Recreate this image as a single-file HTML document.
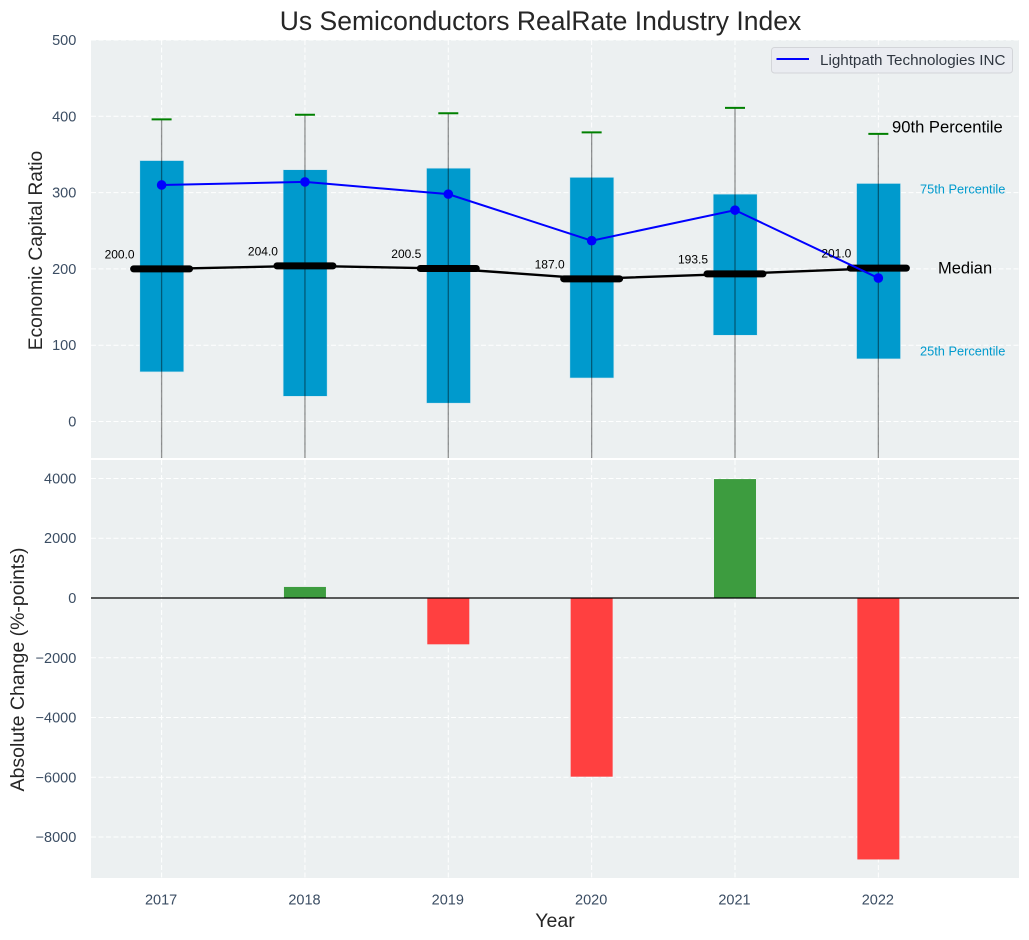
<!DOCTYPE html>
<html lang="en">
<head>
<meta charset="utf-8">
<title>Us Semiconductors RealRate Industry Index</title>
<style>
html,body{margin:0;padding:0;background:#fff;width:1029px;height:940px;overflow:hidden}
svg{display:block;font-family:"Liberation Sans",Arial,sans-serif}
</style>
</head>
<body>
<svg id="chart" xmlns="http://www.w3.org/2000/svg" width="1029" height="940" viewBox="0 0 1029 940"></svg>
<script>
const years = [2017, 2018, 2019, 2020, 2021, 2022];
const p90 = [396, 402, 404, 379, 411, 377];
const p75 = [342, 330, 332, 320, 298, 312];
const medians = [200.0, 204.0, 200.5, 187.0, 193.5, 201.0];
const p25 = [65, 33, 24, 57, 113, 82];
const p10 = [-90, -110, -120, -100, -70, -80];
const companyRatio = [310, 314, 298, 237, 277, 188];
const absoluteChange = [0, 370, -1550, -5980, 3980, -8750];
const topTicks = [0, 100, 200, 300, 400, 500];
const bottomTicks = [-8000, -6000, -4000, -2000, 0, 2000, 4000];

const svg = document.getElementById('chart');
const NS = 'http://www.w3.org/2000/svg';
function mk(tag, attrs, parent, text) {
  const el = document.createElementNS(NS, tag);
  for (const k in attrs) el.setAttribute(k, attrs[k]);
  if (text !== undefined) el.textContent = text;
  (parent || svg).appendChild(el);
  return el;
}
const L = 91, R = 1019, T1 = 40, B1 = 458, T2 = 460, B2 = 878;
function xAxis(y) { return 161.6 + (y - 2017) * 143.35; }
function yTop(v) { return 421.5 - v * 0.763; }
function yBot(v) { return 598 - v * 0.02988; }
const tickColor = '#3b4d63';

/* panels */
let el = mk('rect', {x: L, y: T1, width: R - L, height: B1 - T1, fill: '#ecf0f1'});


el = mk('rect', {x: L, y: T2, width: R - L, height: B2 - T2, fill: '#ecf0f1'});



/* grid */
const dash = {stroke: '#fff', 'stroke-width': 1, 'stroke-dasharray': '5 2.5', fill: 'none', opacity: 0.95};
years.forEach(function (yr) {
  const g1 = mk('line', Object.assign({x1: xAxis(yr), x2: xAxis(yr), y1: T1, y2: B1}, dash));
  
  
  const g2 = mk('line', Object.assign({x1: xAxis(yr), x2: xAxis(yr), y1: T2, y2: B2}, dash));
  
  
  const t = mk('text', {x: xAxis(yr) - 0.5, y: 904.5, 'text-anchor': 'middle', 'font-size': 14.5, fill: tickColor}, svg, String(yr));
  
  
});
topTicks.forEach(function (v) {
  const g = mk('line', Object.assign({x1: L, x2: R, y1: yTop(v), y2: yTop(v)}, dash));
  
  
  const t = mk('text', {x: 76.3, y: yTop(v) + 5, 'text-anchor': 'end', 'font-size': 14.5, fill: tickColor}, svg, String(v));
  
  
});
bottomTicks.forEach(function (v) {
  const g = mk('line', Object.assign({x1: L, x2: R, y1: yBot(v), y2: yBot(v)}, dash));
  
  
  const t = mk('text', {x: 76.3, y: yBot(v) + 5, 'text-anchor': 'end', 'font-size': 14.5, fill: tickColor}, svg, String(v).replace('-', '\u2212'));
  
  
});

/* clip for whiskers */
const defs = mk('defs', {});
const clip = mk('clipPath', {id: 'topClip'}, defs);
mk('rect', {x: L, y: T1, width: R - L, height: B1 - T1}, clip);
const topGroup = mk('g', {'clip-path': 'url(#topClip)'});



/* boxes */
years.forEach(function (yr, i) {
  const cx = xAxis(yr) + 0.2;
  const box = mk('rect', {x: cx - 22, y: yTop(p75[i]), width: 44, height: yTop(p25[i]) - yTop(p75[i]), fill: '#009acd', stroke: '#cfe6ef', 'stroke-width': 0.6}, topGroup);
  
  
});

/* median connecting line */
const medLine = mk('polyline', {points: years.map(function (yr, i) { return xAxis(yr) + ',' + yTop(medians[i]); }).join(' '), fill: 'none', stroke: '#000', 'stroke-width': 2.4}, topGroup);



/* median bars */
years.forEach(function (yr, i) {
  const m = mk('line', {x1: xAxis(yr) - 28, x2: xAxis(yr) + 28, y1: yTop(medians[i]), y2: yTop(medians[i]), stroke: '#000', 'stroke-width': 7, 'stroke-linecap': 'round'}, topGroup);
  
  
});

/* whiskers */
years.forEach(function (yr, i) {
  const w = mk('line', {x1: xAxis(yr), x2: xAxis(yr), y1: yTop(p90[i]), y2: yTop(p10[i]), stroke: '#000', 'stroke-opacity': 0.42, 'stroke-width': 1.3}, topGroup);
  
  
  const c = mk('line', {x1: xAxis(yr) - 10, x2: xAxis(yr) + 10, y1: yTop(p90[i]), y2: yTop(p90[i]), stroke: '#008000', 'stroke-width': 2}, topGroup);
  
  
});

/* company line */
const compLine = mk('polyline', {points: years.map(function (yr, i) { return xAxis(yr) + ',' + yTop(companyRatio[i]); }).join(' '), fill: 'none', stroke: '#0000ff', 'stroke-width': 2}, topGroup);


years.forEach(function (yr, i) {
  const p = mk('circle', {cx: xAxis(yr), cy: yTop(companyRatio[i]), r: 4.8, fill: '#0000ff'}, topGroup);
  
  
});

/* median labels */
years.forEach(function (yr, i) {
  const t = mk('text', {x: xAxis(yr) - 42, y: yTop(medians[i]) - 10.5, 'text-anchor': 'middle', 'font-size': 12, fill: '#000'}, svg, medians[i].toFixed(1));
  
  
});

/* percentile annotations */
el = mk('text', {x: 892, y: 132.5, 'font-size': 16.6, fill: '#000'}, svg, '90th Percentile');


el = mk('text', {x: 920, y: 193.5, 'font-size': 12.8, fill: '#009acd'}, svg, '75th Percentile');


el = mk('text', {x: 938, y: 273.5, 'font-size': 16.5, fill: '#000'}, svg, 'Median');


el = mk('text', {x: 920, y: 355.5, 'font-size': 12.8, fill: '#009acd'}, svg, '25th Percentile');



/* bottom bars */
years.forEach(function (yr, i) {
  const v = absoluteChange[i];
  const top = v >= 0 ? yBot(v) : yBot(0);
  const h = Math.abs(yBot(v) - yBot(0));
  const b = mk('rect', {x: xAxis(yr) - 21, y: top, width: 42, height: h, fill: v >= 0 ? '#3d9c3f' : '#ff4040'});
  
  
});
el = mk('line', {x1: L, x2: R, y1: yBot(0), y2: yBot(0), stroke: '#000', 'stroke-width': 1.3});



/* legend */
el = mk('rect', {x: 771.5, y: 47.5, width: 241, height: 25.5, rx: 3, fill: '#eaecf1', stroke: '#d3d5d9', 'stroke-width': 1});


el = mk('line', {x1: 776.5, x2: 809, y1: 59, y2: 59, stroke: '#0000ff', 'stroke-width': 2});


el = mk('text', {x: 820, y: 65, 'font-size': 15.2, fill: '#2f3640'}, svg, 'Lightpath Technologies INC');



/* titles */
el = mk('text', {x: 540.5, y: 30, 'text-anchor': 'middle', 'font-size': 26.5, fill: '#262626'}, svg, 'Us Semiconductors RealRate Industry Index');


el = mk('text', {x: 0, y: 0, transform: 'translate(42,250.5) rotate(-90)', 'text-anchor': 'middle', 'font-size': 19.2, fill: '#262626'}, svg, 'Economic Capital Ratio');


el = mk('text', {x: 0, y: 0, transform: 'translate(24,669.5) rotate(-90)', 'text-anchor': 'middle', 'font-size': 19.5, fill: '#262626'}, svg, 'Absolute Change (%-points)');


el = mk('text', {x: 555, y: 927, 'text-anchor': 'middle', 'font-size': 19.5, fill: '#262626'}, svg, 'Year');


</script>
</body>
</html>
